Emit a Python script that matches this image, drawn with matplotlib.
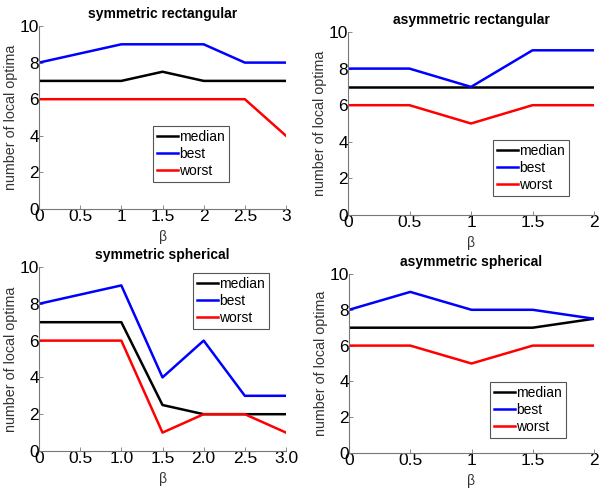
import matplotlib
matplotlib.use("Agg")
import matplotlib.pyplot as plt

plt.rcParams["font.family"] = ["Liberation Sans", "DejaVu Sans"]

# symmetric rectangular
x_sr = [0, 1, 1.5, 2, 2.5, 3]
med_sr = [7, 7, 7.5, 7, 7, 7]
best_sr = [8, 9, 9, 9, 8, 8]
worst_sr = [6, 6, 6, 6, 6, 4]

# asymmetric rectangular
x_ar = [0, 0.5, 1, 1.5, 2]
med_ar = [7, 7, 7, 7, 7]
best_ar = [8, 8, 7, 9, 9]
worst_ar = [6, 6, 5, 6, 6]

# symmetric spherical
x_ss = [0, 1, 1.5, 2, 2.5, 3]
med_ss = [7, 7, 2.5, 2, 2, 2]
best_ss = [8, 9, 4, 6, 3, 3]
worst_ss = [6, 6, 1, 2, 2, 1]

# asymmetric spherical
x_as = [0, 0.5, 1, 1.5, 2]
med_as = [7, 7, 7, 7, 7.5]
best_as = [8, 9, 8, 8, 7.5]
worst_as = [6, 6, 5, 6, 6]

xt_sr = [0, 0.5, 1, 1.5, 2, 2.5, 3]
xtl_sr = ["0", "0.5", "1", "1.5", "2", "2.5", "3"]
xt_ar = [0, 0.5, 1, 1.5, 2]
xtl_ar = ["0", "0.5", "1", "1.5", "2"]
xtl_ss = ["0", "0.5", "1.0", "1.5", "2.0", "2.5", "3.0"]

W, H = 600, 491
fig = plt.figure(figsize=(W / 100, H / 100), dpi=100)


def px_axes(x0, y_bot, x1, y_top):
    return fig.add_axes([x0 / W, (H - y_bot) / H, (x1 - x0) / W, (y_bot - y_top) / H])


def panel(ax, x, med, best, worst, title, xt, xtl, leg_box):
    ax.plot(x, med, color="black", lw=1.8, label="median")
    ax.plot(x, best, color="#0000ff", lw=1.8, label="best")
    ax.plot(x, worst, color="#ff0000", lw=1.8, label="worst")
    ax.set_xlim(xt[0], xt[-1])
    ax.set_ylim(0, 10)
    ax.set_xticks(xt)
    ax.set_xticklabels(xtl)
    ax.set_yticks([0, 2, 4, 6, 8, 10])
    for s in ("top", "right"):
        ax.spines[s].set_visible(False)
    for s in ("left", "bottom"):
        ax.spines[s].set_color("#777777")
        ax.spines[s].set_linewidth(0.8)
    ax.tick_params(direction="in", length=3, width=0.6, color="#777777",
                   labelsize=12.5, pad=0)
    ax.set_ylabel("number of local optima", fontsize=10.3, color="#333333", labelpad=1)
    ax.set_xlabel("β", fontsize=10, color="#333333", labelpad=4)
    ax.set_title(title, fontsize=10, fontweight="bold", pad=6)
    # legend box in figure pixels (left, top)
    lx, ly = leg_box
    leg = ax.legend(loc="upper left", bbox_to_anchor=(lx / W, (H - ly) / H),
                    bbox_transform=fig.transFigure, borderaxespad=0,
                    fontsize=10, handlelength=1.5, handletextpad=0.05,
                    labelspacing=0.2, borderpad=0.3, fancybox=False,
                    framealpha=1)
    leg.get_frame().set_edgecolor("#555555")
    leg.get_frame().set_linewidth(0.8)


ax1 = px_axes(39, 209, 286, 26)
panel(ax1, x_sr, med_sr, best_sr, worst_sr, "symmetric rectangular",
      xt_sr, xtl_sr, (153, 126))

ax2 = px_axes(348, 215, 594, 32)
panel(ax2, x_ar, med_ar, best_ar, worst_ar, "asymmetric rectangular",
      xt_ar, xtl_ar, (493, 140))

ax3 = px_axes(39, 451, 286, 267)
panel(ax3, x_ss, med_ss, best_ss, worst_ss, "symmetric spherical",
      xt_sr, xtl_ss, (193, 273))

ax4 = px_axes(349, 453, 594, 274)
panel(ax4, x_as, med_as, best_as, worst_as, "asymmetric spherical",
      xt_ar, xtl_ar, (490, 382))

fig.savefig("out.png", dpi=100, facecolor="white")
